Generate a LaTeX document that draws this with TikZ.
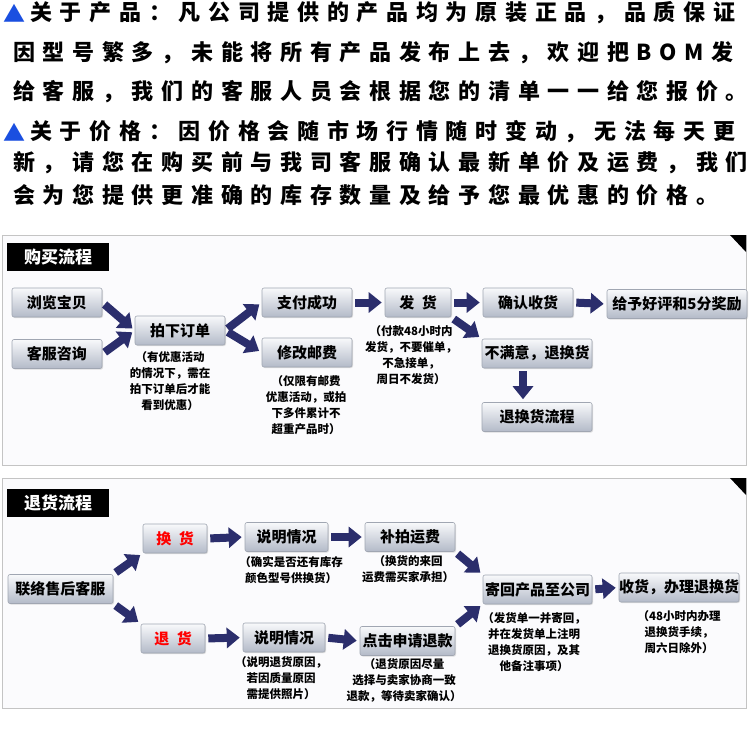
\documentclass[tikz,border=0pt]{standalone}
\usepackage{fontspec}
\setmainfont{Noto Sans CJK SC}
\newfontfamily\spacedcjk[LetterSpace=35]{Noto Sans CJK SC}
\usetikzlibrary{arrows.meta,shadows}

\definecolor{navyarrow}{HTML}{2B2E6C}
\definecolor{boxtop}{HTML}{F8F9FB}
\definecolor{boxbot}{HTML}{B3BAC8}
\definecolor{boxedge}{HTML}{A0A6B2}
\definecolor{panelbg}{HTML}{FBFBFD}
\definecolor{paneledge}{HTML}{C4C4C4}
\definecolor{markblue}{HTML}{1A4FE0}

\tikzset{
  infoline/.style={anchor=west, inner sep=0pt, font=\fontsize{22}{22}\spacedcjk\bfseries},
  panel/.style={draw=paneledge, fill=panelbg, line width=0.8pt},
  titlebox/.style={fill=black, text=white, minimum width=102pt, minimum height=28pt,
    inner sep=0pt, font=\fontsize{17}{17}\selectfont\bfseries},
  flowbox/.style={draw=boxedge, line width=0.6pt, rounded corners=2pt,
    top color=boxtop, bottom color=boxbot, minimum height=29pt, inner sep=0pt,
    font=\fontsize{15}{15}\selectfont\bfseries,
    drop shadow={shadow xshift=1pt, shadow yshift=-1pt, opacity=.25}},
  note/.style={align=center, inner sep=0pt, font=\fontsize{11.5}{16}\selectfont\bfseries},
  flowarrow/.style={draw=navyarrow, line width=8pt, -{Triangle[length=13pt,width=20pt]},
    shorten <=3pt, shorten >=3pt}
}

\begin{document}
\begin{tikzpicture}[x=1pt,y=-1pt]
  \useasboundingbox[fill=white] (0,0) rectangle (750,750);

  \foreach \nm/\y in {markA/13, markB/132}
    \node[infoline, text=markblue] (\nm) at (3,\y) {▲};
  \foreach \nm/\x/\y/\txt in {
      infoA/30/13/关于产品：凡公司提供的产品均为原装正品，品质保证,
      infoB/13/53/因型号繁多，未能将所有产品发布上去，欢迎把BOM发,
      infoC/13/92/给客服，我们的客服人员会根据您的清单一一给您报价。,
      infoD/30/132/关于价格：因价格会随市场行情随时变动，无法每天更,
      infoE/13/163/新，请您在购买前与我司客服确认最新单价及运费，我们,
      infoF/13/195/会为您提供更准确的库存数量及给予您最优惠的价格。}
    \node[infoline] (\nm) at (\x,\y) {\txt};

  \draw[panel] (2,235) rectangle (746,465);
  \fill (730,235) -- (746,235) -- (746,252) -- cycle;
  \node[titlebox] (buytitle) at (58,257) {购买流程};
  \foreach \nm/\x/\y/\w/\txt in {
      browse/57/302.5/90/浏览宝贝, consult/57/354/90/客服咨询,
      order/180/330.5/90/拍下订单, pay/307/302.5/90/支付成功,
      postage/307/352.5/90/修改邮费, ship/418/302.5/66/发\hspace{.5em}货,
      confirm/528/302.5/90/确认收货, review/677/304/140/给予好评和5分奖励,
      unhappy/537/353.5/110/不满意，退换货, returnflow/537/417/110/退换货流程}
    \node[flowbox, minimum width=\w] (\nm) at (\x,\y) {\txt};
  \foreach \nm/\x/\y/\txt in {
      ordernote/170/381/{（有优惠活动\\的情况下，需在\\拍下订单后才能\\看到优惠）},
      postagenote/306/405/{（仅限有邮费\\优惠活动，或拍\\下多件累计不\\超重产品时）},
      shipnote/411/355/{（付款48小时内\\发货，不要催单，\\不急接单，\\周日不发货）}}
    \node[note] (\nm) at (\x,\y) {\txt};
  \foreach \a/\b in {browse.east/order.west, consult.east/order.west,
      order.east/pay.west, order.east/postage.west, pay.east/ship.west,
      ship.east/confirm.west, ship.south east/unhappy.north west, confirm.east/review.west}
    \draw[flowarrow] (\a) -- (\b);
  \draw[flowarrow] ([xshift=-14pt]unhappy.south) -- ([xshift=-14pt]returnflow.north);

  \draw[panel] (2,478) rectangle (746,708);
  \fill (730,478) -- (746,478) -- (746,495) -- cycle;
  \node[titlebox] (backtitle) at (58,502.5) {退货流程};
  \foreach \nm/\x/\y/\w/\txt in {
      aftersale/60.5/589/105/联络售后客服,
      exchange/175/538.5/64/\textcolor{red}{换\hspace{.5em}货},
      refund/173/638.5/64/\textcolor{red}{退\hspace{.5em}货},
      explainA/286.5/537/83/说明情况, explainB/284/637.5/82/说明情况,
      freight/410/537/90/补拍运费, apply/407.5/641/95/点击申请退款,
      sendback/537.5/589.5/109/寄回产品至公司, receive/679/587.5/108/收货，办理退换货}
    \node[flowbox, minimum width=\w] (\nm) at (\x,\y) {\txt};
  \foreach \nm/\x/\y/\txt in {
      explainAnote/291/570.5/{（确实是否还有库存\\颜色型号供换货）},
      freightnote/408/569.5/{（换货的来回\\运费需买家承担）},
      explainBnote/281/678/{（说明退货原因，\\若因质量原因\\需提供照片）},
      applynote/404/680/{（退货原因尽量\\选择与卖家协商一致\\退款，等待卖家确认）},
      sendbacknote/534/642/{（发货单一并寄回，\\并在发货单上注明\\退换货原因，及其\\他备注事项）},
      receivenote/679/632/{（48小时内办理\\退换货手续，\\周六日除外）}}
    \node[note] (\nm) at (\x,\y) {\txt};
  \foreach \a/\b in {aftersale.north east/exchange.south west,
      aftersale.south east/refund.north west, exchange.east/explainA.west,
      explainA.east/freight.west, refund.east/explainB.west, explainB.east/apply.west,
      freight.south east/sendback.north west, apply.north east/sendback.south west,
      sendback.east/receive.west}
    \draw[flowarrow] (\a) -- (\b);
\end{tikzpicture}
\end{document}
